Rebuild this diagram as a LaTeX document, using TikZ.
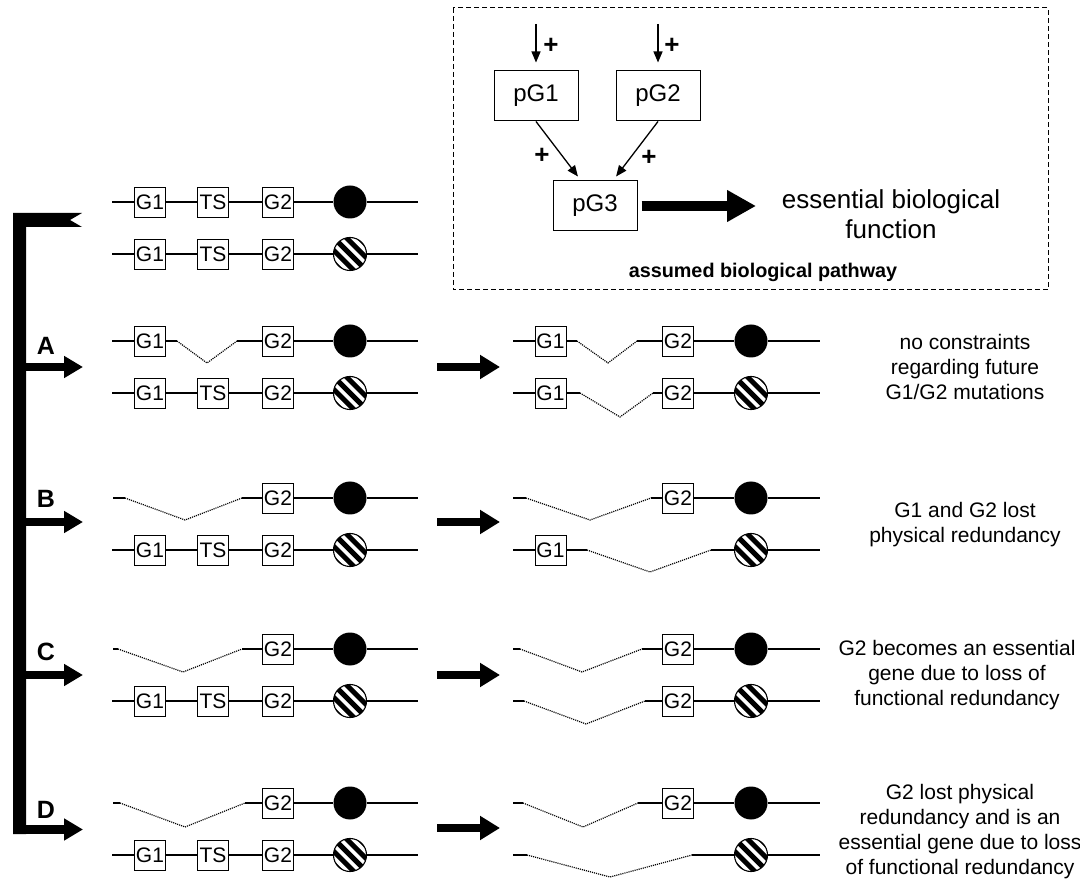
\documentclass[tikz,border=0pt]{standalone}
\usepackage{fontspec}
\setmainfont{Liberation Sans}
\usetikzlibrary{arrows.meta}
\tikzset{
  gene/.style={draw, line width=0.9pt, minimum width=31pt, minimum height=30pt, inner sep=0pt, font=\fontsize{21}{21}\selectfont},
  cenb/.style={circle, fill=black, minimum size=33pt, inner sep=0pt},
  cenh/.style={circle, draw, line width=1.1pt, fill=white, minimum size=33pt, inner sep=0pt,
    path picture={\foreach \i in {-38.1,-25.4,...,40} \draw[line width=5pt] ([xshift=\i pt]path picture bounding box.center) ++(-24pt,24pt) -- ++(48pt,-48pt);}},
  chr/.style={line width=1.2pt},
  del/.style={line width=1.2pt, dash pattern=on 1.1pt off 1pt},
  lfat/.style={line width=7.5pt, -{Triangle[length=19pt,width=21pt]}},
  rfat/.style={line width=8.5pt, -{Triangle[length=20pt,width=23pt]}},
  pbox/.style={draw, line width=1pt, minimum width=84pt, minimum height=50pt, inner sep=0pt, font=\fontsize{24}{24}\selectfont},
  parr/.style={line width=1.3pt, -{Triangle[length=11pt,width=9pt]}},
  plus/.style={font=\bfseries\fontsize{26}{26}\selectfont, inner sep=0pt},
  lab/.style={font=\bfseries\fontsize{25}{25}\selectfont, inner sep=0pt},
  desc/.style={align=center, font=\fontsize{21}{25}\selectfont, inner sep=0pt},
}
\newcommand\fullchr[4]{% prefix, x-offset, y, centromere style
  \coordinate (#1s) at (112+#2,#3);
  \node[gene] (#1a) at (150+#2,#3) {G1};
  \node[gene] (#1t) at (213+#2,#3) {TS};
  \node[gene] (#1b) at (278+#2,#3) {G2};
  \node[#4] (#1c) at (350+#2,#3) {};
  \coordinate (#1e) at (418+#2,#3);
  \draw[chr] (#1s) -- (#1a) -- (#1t) -- (#1b) -- (#1c) -- (#1e);
}
\begin{document}
\begin{tikzpicture}[x=1pt,y=-1pt]
\useasboundingbox (0,0) rectangle (1080,882);
\fill[white] (0,0) rectangle (1080,882);

% ---------- pathway box ----------
\draw[line width=1pt, dash pattern=on 5pt off 3pt] (453,8) rectangle (1048,290);
\node[pbox] (pg1) at (536,96) {pG1};
\node[pbox] (pg2) at (658,96) {pG2};
\node[pbox] (pg3) at (595,206) {pG3};
\coordinate (in1) at (536,24);
\coordinate (in2) at (658,24);
\draw[parr, shorten >=8pt] (in1) -- (pg1.north);
\draw[parr, shorten >=8pt] (in2) -- (pg2.north);
\node[plus] (p1) at (551,46) {+};
\node[plus] (p2) at (672,46) {+};
\draw[parr, shorten >=5pt] (pg1.south) -- ([xshift=-14pt]pg3.north);
\draw[parr, shorten >=5pt] (pg2.south) -- ([xshift=18pt]pg3.north);
\node[plus] (p3) at (542,156) {+};
\node[plus] (p4) at (649,158) {+};
\node[align=center, font=\fontsize{26}{30}\selectfont, inner sep=0pt] (fn) at (891,214) {essential biological\\function};
\coordinate (fa) at (756,206);
\draw[line width=9.5pt, -{Triangle[length=29pt,width=30pt]}] ([xshift=4pt]pg3.east) -- (fa);
\node[font=\bfseries\fontsize{19.8}{20}\selectfont, inner sep=0pt] (ttl) at (763,272) {assumed biological pathway};

% ---------- bracket ----------
\fill (13,213) -- (82,213) -- (70,220) -- (82,227) -- (26,227) -- (26,834) -- (13,834) -- cycle;
\coordinate (bA) at (20,367);  \coordinate (tA) at (83,367);
\coordinate (bB) at (20,522);  \coordinate (tB) at (83,522);
\coordinate (bC) at (20,675);  \coordinate (tC) at (83,675);
\coordinate (bD) at (13,829.5);  \coordinate (tD) at (83,829.5);
\draw[lfat] (bA) -- (tA);
\draw[lfat] (bB) -- (tB);
\draw[lfat] (bC) -- (tC);
\draw[lfat, line width=9pt] (bD) -- (tD);
\node[lab] (lA) at (46,346) {A};
\node[lab] (lB) at (46,499) {B};
\node[lab] (lC) at (46,652) {C};
\node[lab] (lD) at (46,810) {D};

% ---------- top (original) ----------
\fullchr{T1}{0}{202}{cenb}
\fullchr{T2}{0}{254}{cenh}

% ---------- row A ----------
\coordinate (A1s) at (112,341); \node[gene] (A1a) at (150,341) {G1};
\coordinate (A1p) at (177,341); \coordinate (A1v) at (207,363); \coordinate (A1q) at (237,341);
\node[gene] (A1b) at (278,341) {G2}; \node[cenb] (A1c) at (350,341) {}; \coordinate (A1e) at (418,341);
\draw[chr] (A1s) -- (A1a) -- (A1p); \draw[del] (A1p) -- (A1v) -- (A1q); \draw[chr] (A1q) -- (A1b) -- (A1c) -- (A1e);
\fullchr{A2}{0}{393}{cenh}

\coordinate (RAf) at (437,367); \coordinate (RAt) at (500,367); \draw[rfat] (RAf) -- (RAt);

\coordinate (RA1s) at (513,341); \node[gene] (RA1a) at (550.5,341) {G1};
\coordinate (RA1p) at (577,341); \coordinate (RA1v) at (608,363); \coordinate (RA1q) at (637,341);
\node[gene] (RA1b) at (678,341) {G2}; \node[cenb] (RA1c) at (751,341) {}; \coordinate (RA1e) at (820,341);
\draw[chr] (RA1s) -- (RA1a) -- (RA1p); \draw[del] (RA1p) -- (RA1v) -- (RA1q); \draw[chr] (RA1q) -- (RA1b) -- (RA1c) -- (RA1e);

\coordinate (RA2s) at (513,393); \node[gene] (RA2a) at (550.5,393) {G1};
\coordinate (RA2p) at (580,393); \coordinate (RA2v) at (620,417); \coordinate (RA2q) at (653,393);
\node[gene] (RA2b) at (678,393) {G2}; \node[cenh] (RA2c) at (751,393) {}; \coordinate (RA2e) at (820,393);
\draw[chr] (RA2s) -- (RA2a) -- (RA2p); \draw[del] (RA2p) -- (RA2v) -- (RA2q); \draw[chr] (RA2q) -- (RA2b) -- (RA2c) -- (RA2e);

\node[desc] (dA) at (965,367) {no constraints\\regarding future\\G1/G2 mutations};

% ---------- row B ----------
\coordinate (B1s) at (113,498); \coordinate (B1p) at (125,498); \coordinate (B1v) at (185,520); \coordinate (B1q) at (242,498);
\node[gene] (B1b) at (278,498) {G2}; \node[cenb] (B1c) at (350,498) {}; \coordinate (B1e) at (418,498);
\draw[chr] (B1s) -- (B1p); \draw[del] (B1p) -- (B1v) -- (B1q); \draw[chr] (B1q) -- (B1b) -- (B1c) -- (B1e);
\fullchr{B2}{0}{550}{cenh}

\coordinate (RBf) at (437,522); \coordinate (RBt) at (500,522); \draw[rfat] (RBf) -- (RBt);

\coordinate (RB1s) at (513,498); \coordinate (RB1p) at (526,498); \coordinate (RB1v) at (590,520); \coordinate (RB1q) at (651,498);
\node[gene] (RB1b) at (678,498) {G2}; \node[cenb] (RB1c) at (751,498) {}; \coordinate (RB1e) at (820,498);
\draw[chr] (RB1s) -- (RB1p); \draw[del] (RB1p) -- (RB1v) -- (RB1q); \draw[chr] (RB1q) -- (RB1b) -- (RB1c) -- (RB1e);

\coordinate (RB2s) at (513,550); \node[gene] (RB2a) at (550.5,550) {G1};
\coordinate (RB2p) at (587,550); \coordinate (RB2v) at (650,572); \coordinate (RB2q) at (711,550);
\node[cenh] (RB2c) at (751,550) {}; \coordinate (RB2e) at (820,550);
\draw[chr] (RB2s) -- (RB2a) -- (RB2p); \draw[del] (RB2p) -- (RB2v) -- (RB2q); \draw[chr] (RB2q) -- (RB2c) -- (RB2e);

\node[desc] (dB) at (965,525) {G1 and G2 lost\\physical redundancy};

% ---------- row C ----------
\coordinate (C1s) at (113,649); \coordinate (C1p) at (118,649); \coordinate (C1v) at (183,672); \coordinate (C1q) at (242,649);
\node[gene] (C1b) at (278,649) {G2}; \node[cenb] (C1c) at (350,649) {}; \coordinate (C1e) at (418,649);
\draw[chr] (C1s) -- (C1p); \draw[del] (C1p) -- (C1v) -- (C1q); \draw[chr] (C1q) -- (C1b) -- (C1c) -- (C1e);
\fullchr{C2}{0}{701}{cenh}

\coordinate (RCf) at (437,675); \coordinate (RCt) at (500,675); \draw[rfat] (RCf) -- (RCt);

\coordinate (RC1s) at (513,649); \coordinate (RC1p) at (520,649); \coordinate (RC1v) at (582,672); \coordinate (RC1q) at (642,649);
\node[gene] (RC1b) at (678,649) {G2}; \node[cenb] (RC1c) at (751,649) {}; \coordinate (RC1e) at (820,649);
\draw[chr] (RC1s) -- (RC1p); \draw[del] (RC1p) -- (RC1v) -- (RC1q); \draw[chr] (RC1q) -- (RC1b) -- (RC1c) -- (RC1e);

\coordinate (RC2s) at (513,701); \coordinate (RC2p) at (524,701); \coordinate (RC2v) at (586,724); \coordinate (RC2q) at (645,701);
\node[gene] (RC2b) at (678,701) {G2}; \node[cenh] (RC2c) at (751,701) {}; \coordinate (RC2e) at (820,701);
\draw[chr] (RC2s) -- (RC2p); \draw[del] (RC2p) -- (RC2v) -- (RC2q); \draw[chr] (RC2q) -- (RC2b) -- (RC2c) -- (RC2e);

\node[desc] (dC) at (957,675) {G2 becomes an essential\\gene due to loss of\\functional redundancy};

% ---------- row D ----------
\coordinate (D1s) at (113,803); \coordinate (D1p) at (120,803); \coordinate (D1v) at (185,827); \coordinate (D1q) at (245,803);
\node[gene] (D1b) at (278,803) {G2}; \node[cenb] (D1c) at (350,803) {}; \coordinate (D1e) at (418,803);
\draw[chr] (D1s) -- (D1p); \draw[del] (D1p) -- (D1v) -- (D1q); \draw[chr] (D1q) -- (D1b) -- (D1c) -- (D1e);
\fullchr{D2}{0}{855}{cenh}

\coordinate (RDf) at (437,828); \coordinate (RDt) at (500,828); \draw[rfat] (RDf) -- (RDt);

\coordinate (RD1s) at (513,803); \coordinate (RD1p) at (523,803); \coordinate (RD1v) at (583,827); \coordinate (RD1q) at (638,803);
\node[gene] (RD1b) at (678,803) {G2}; \node[cenb] (RD1c) at (751,803) {}; \coordinate (RD1e) at (820,803);
\draw[chr] (RD1s) -- (RD1p); \draw[del] (RD1p) -- (RD1v) -- (RD1q); \draw[chr] (RD1q) -- (RD1b) -- (RD1c) -- (RD1e);

\coordinate (RD2s) at (513,855); \coordinate (RD2p) at (527,855); \coordinate (RD2v) at (610,877); \coordinate (RD2q) at (692,855);
\node[cenh] (RD2c) at (751,855) {}; \coordinate (RD2e) at (820,855);
\draw[chr] (RD2s) -- (RD2p); \draw[del] (RD2p) -- (RD2v) -- (RD2q); \draw[chr] (RD2q) -- (RD2c) -- (RD2e);

\node[desc] (dD) at (960,832) {G2 lost physical\\redundancy and is an\\essential gene due to loss\\of functional redundancy};
\end{tikzpicture}
\end{document}
